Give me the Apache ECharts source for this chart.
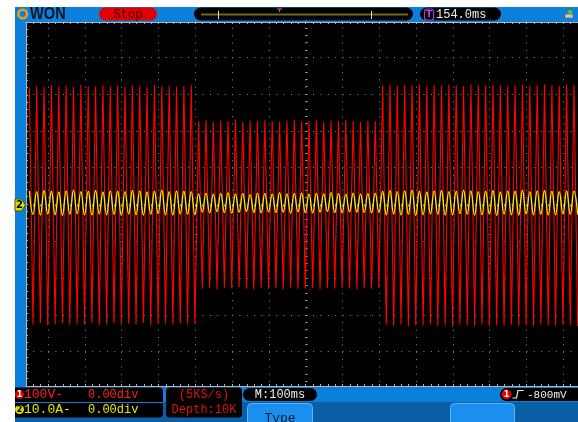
<!DOCTYPE html>
<html><head><meta charset="utf-8">
<script src="https://cdn.jsdelivr.net/npm/echarts@6.0.0/dist/echarts.min.js"></script>
<style>html,body{margin:0;padding:0;background:#fff;}#c{width:578px;height:422px;}</style>
</head><body><div id="c"></div>
<script>
// ---- data (50 Hz mains, 100 ms/div) ----
const HALF_PERIOD_MS = 10;
const FIRST_PEAK_MS = -751;
// CH1 voltage (V): positive peaks and negative peaks, one per cycle
const ch1TopsV = [
  318,322,320,324,321,323,319,325,322,320,324,321,323,320,325,322,319,324,321,323,320,322,324,
  226,229,225,228,227,230,224,228,226,229,227,225,228,230,226,227,229,225,228,226,229,227,224,228,226,
  323,326,322,325,324,327,321,325,323,326,324,322,326,325,323,327,324,322,325,326,323,325,327,324,322,326,324];
const ch1BottomsV = [
  -326,-323,-328,-325,-322,-327,-324,-326,-321,-328,-325,-323,-327,-324,-326,-322,-328,-325,-323,-327,-324,-326,-325,
  -229,-226,-230,-227,-228,-225,-229,-231,-226,-228,-227,-230,-225,-229,-228,-226,-230,-227,-229,-226,-228,-231,-227,-229,-226,
  -327,-330,-326,-331,-328,-329,-326,-330,-328,-332,-327,-329,-330,-326,-331,-328,-329,-327,-330,-328,-331,-326,-329,-330,-327,-328,-330];
// CH2 current (A)
const ch2TopsA = [
  3.7,3.5,3.8,3.6,3.4,3.7,3.9,3.5,3.6,3.8,3.4,3.7,3.6,3.5,3.8,3.7,3.4,3.6,3.9,3.5,3.7,3.6,3.5,
  2.9,3.1,2.8,3.0,3.2,2.9,3.0,2.7,3.1,3.0,2.8,3.2,2.9,3.0,3.1,2.8,3.0,2.9,3.2,3.0,2.8,3.1,2.9,3.0,3.1,
  3.6,3.8,3.5,3.7,3.9,3.6,3.4,3.7,3.8,3.5,3.6,3.9,3.7,3.5,3.6,3.8,3.4,3.7,3.6,3.9,3.5,3.7,3.8,3.6,3.5,3.7,3.6];
const ch2BottomsA = [
  -2.7,-2.9,-2.6,-2.8,-3.0,-2.7,-2.5,-2.8,-2.9,-2.6,-2.8,-2.7,-3.0,-2.6,-2.8,-2.9,-2.7,-2.5,-2.8,-2.9,-2.6,-2.7,-2.8,
  -2.1,-2.3,-2.0,-2.2,-2.4,-2.1,-1.9,-2.2,-2.3,-2.0,-2.2,-2.1,-2.4,-2.0,-2.2,-2.3,-2.1,-1.9,-2.2,-2.3,-2.0,-2.1,-2.2,-2.3,-2.1,
  -2.8,-2.6,-2.9,-2.7,-3.0,-2.8,-2.6,-2.7,-2.9,-2.8,-2.5,-2.7,-2.9,-2.8,-2.6,-3.0,-2.7,-2.8,-2.9,-2.6,-2.8,-2.7,-2.9,-2.8,-2.6,-2.7,-2.8];
// screen texts
const brandText = 'WON';
const runStateText = 'Stop';
const triggerTimeText = '154.0ms';
const ch1Labels = ['100V-', '0.00div'];
const ch2Labels = ['10.0A-', '0.00div'];
const sampleLabels = ['(5KS/s)', 'Depth:10K'];
const timebaseText = 'M:100ms';
const menuText = 'Type';
const trigLevelText = '-800mV';

function interleave(tops, bottoms) {
  const out = [];
  for (let i = 0; i < tops.length; i++) {
    const t = FIRST_PEAK_MS + 2 * i * HALF_PERIOD_MS;
    out.push([t, tops[i]]);
    out.push([t + HALF_PERIOD_MS, bottoms[i]]);
  }
  return out;
}
const ch1Data = interleave(ch1TopsV, ch1BottomsV);
const ch2Data = interleave(ch2TopsA, ch2BottomsA);

const BLUE = '#0b7fd9', DARKBLUE = '#0a5ea6', RULER = '#b4b4b4', GRIDC = '#8a8a8a', CENTER = '#9a9a9a';
const MONO = '"Liberation Mono", "DejaVu Sans Mono", monospace';
const hidden = {axisLine:{show:false,onZero:false},axisTick:{show:false},axisLabel:{show:false},splitLine:{show:false}};

function txt(text, x, y, fill, size, align, extra) {
  return Object.assign({type:'text', z:110, style:{text:text, x:x, y:y, fill:fill, font: size + 'px ' + MONO, align: align || 'left', verticalAlign:'middle'}}, extra || {});
}

const graphics = [
  {type:'rect', z:-10, shape:{x:15,y:7,width:563,height:415}, style:{fill:BLUE}},
  {type:'rect', z:-9, shape:{x:15,y:402,width:563,height:20}, style:{fill:DARKBLUE}},
  // logo
  {type:'circle', z:110, shape:{cx:22.7,cy:14,r:4.3}, style:{fill:null, stroke:'#e8a010', lineWidth:2.6}},
  {type:'text', z:110, x:30, y:14.5, scaleX:0.86, style:{text:brandText, x:0, y:0, fill:'#0c1626', font:'bold 17px "Liberation Sans", Arial', verticalAlign:'middle'}},
  // Stop pill
  {type:'rect', z:110, shape:{x:99,y:7.5,width:58,height:13,r:6.5}, style:{fill:'#e00000'}},
  txt(runStateText, 128, 14.5, '#3a0000', 12, 'center'),
  // timeline pill
  {type:'rect', z:110, shape:{x:194,y:7.5,width:219,height:13,r:6.5}, style:{fill:'#000'}},
  {type:'line', z:111, shape:{x1:201,y1:14.5,x2:408,y2:14.5}, style:{stroke:'#6e6a1e', lineWidth:2}},
  {type:'line', z:112, shape:{x1:218.5,y1:11,x2:218.5,y2:19}, style:{stroke:'#e0e0e0', lineWidth:1}},
  {type:'line', z:112, shape:{x1:371.5,y1:11,x2:371.5,y2:19}, style:{stroke:'#e0e0e0', lineWidth:1}},
  {type:'polyline', z:112, shape:{points:[[277,9],[282,9]]}, style:{stroke:'#d040c0', lineWidth:1.2}},
  {type:'line', z:112, shape:{x1:279.5,y1:9,x2:279.5,y2:12}, style:{stroke:'#d040c0', lineWidth:1.2}},
  // trigger time pill
  {type:'rect', z:110, shape:{x:420,y:7.5,width:81,height:13,r:6.5}, style:{fill:'#000'}},
  {type:'rect', z:111, shape:{x:424.5,y:9,width:9,height:11,r:2}, style:{fill:null, stroke:'#a040d0', lineWidth:1.2}},
  {type:'text', z:112, style:{text:'T', x:429, y:14.7, fill:'#b050e0', font:'bold 9px "DejaVu Sans"', align:'center', verticalAlign:'middle'}},
  txt(triggerTimeText, 436, 14.5, '#f0f0f0', 12, 'left'),
  // usb icon
  {type:'polygon', z:110, shape:{points:[[566,12],[570,9],[574,12],[570,15]]}, style:{fill:'#50c050', stroke:'#2a6a2a', lineWidth:0.6}},
  {type:'rect', z:110, shape:{x:565,y:14,width:8,height:4}, style:{fill:'#c8c8c8', stroke:'#606060', lineWidth:0.6}},
  // ch2 ground marker
  {type:'polygon', z:110, shape:{points:[[15,199],[21.5,199],[25.5,205],[21.5,211],[15,211]]}, style:{fill:'#dede00', stroke:'#505000', lineWidth:1}},
  {type:'text', z:111, style:{text:'2', x:19.5, y:205.5, fill:'#000', font:'bold 10px "DejaVu Sans"', align:'center', verticalAlign:'middle'}},
  // bottom-left channel panel
  {type:'rect', z:105, shape:{x:15,y:387.5,width:148,height:30,r:[0,4,4,0]}, style:{fill:'#000'}},
  {type:'line', z:106, shape:{x1:15,y1:402.5,x2:163,y2:402.5}, style:{stroke:BLUE, lineWidth:1.2}},
  {type:'circle', z:110, shape:{cx:19.5,cy:394.5,r:4.5}, style:{fill:'#e00000'}},
  {type:'text', z:111, style:{text:'1', x:19.5, y:395, fill:'#fff', font:'bold 8px "DejaVu Sans"', align:'center', verticalAlign:'middle'}},
  txt(ch1Labels[0], 24, 395, '#ff2020', 13, 'left'),
  txt(ch1Labels[1], 88, 395, '#ff2020', 12, 'left'),
  {type:'circle', z:110, shape:{cx:19.5,cy:409.5,r:4.5}, style:{fill:'#dede00'}},
  {type:'text', z:111, style:{text:'2', x:19.5, y:410, fill:'#000', font:'bold 8px "DejaVu Sans"', align:'center', verticalAlign:'middle'}},
  txt(ch2Labels[0], 24, 410, '#e8e800', 13, 'left'),
  txt(ch2Labels[1], 88, 410, '#e8e800', 12, 'left'),
  // sample panel
  {type:'rect', z:105, shape:{x:166,y:387.5,width:76,height:30,r:4}, style:{fill:'#000'}},
  txt(sampleLabels[0], 204, 395, '#e01010', 12, 'center'),
  txt(sampleLabels[1], 204, 410, '#e01010', 12, 'center'),
  // timebase pill
  {type:'rect', z:105, shape:{x:243,y:388,width:74,height:13,r:6.5}, style:{fill:'#000'}},
  txt(timebaseText, 280, 394.5, '#f0f0f0', 12, 'center'),
  // menu buttons
  {type:'rect', z:105, shape:{x:247.5,y:403.5,width:65,height:22,r:[4,4,0,0]}, style:{fill:'#1a8fee', stroke:'#5cb4ff', lineWidth:1}},
  txt(menuText, 280, 419, '#0a1a30', 13, 'center'),
  {type:'rect', z:105, shape:{x:450.5,y:403.5,width:64,height:22,r:[4,4,0,0]}, style:{fill:'#1a8fee', stroke:'#5cb4ff', lineWidth:1}},
  // trigger pill
  {type:'rect', z:105, shape:{x:500,y:388,width:80,height:13,r:[6.5,0,0,6.5]}, style:{fill:'#000'}},
  {type:'circle', z:110, shape:{cx:506.5,cy:394.5,r:5}, style:{fill:'#e00000'}},
  {type:'text', z:111, style:{text:'1', x:506.5, y:395, fill:'#fff', font:'bold 8px "DejaVu Sans"', align:'center', verticalAlign:'middle'}},
  {type:'polyline', z:110, shape:{points:[[512.5,398],[516.5,398],[518,390.5],[523.5,390.5]]}, style:{stroke:'#f0f0f0', lineWidth:1.2, fill:null}},
  txt(trigLevelText, 527, 395, '#f0f0f0', 11, 'left')
];

const rulerX = (pos) => ({gridIndex:0, type:'value', position:pos, min:-760, max:740, interval:20,
  axisLine:{show:true,onZero:false,lineStyle:{color:RULER,width:1}},
  axisTick:{show:true,inside:true,length:2,lineStyle:{color:RULER}},
  axisLabel:{show:false}, splitLine:{show:false}});

const option = {
  animation:false,
  backgroundColor:'transparent',
  grid:[
    {left:26, top:22, width:552, height:364, show:true, backgroundColor:'#000', borderWidth:0, outerBoundsMode:'none'},
    {left:26, top:20.5, width:552, height:368, show:false, outerBoundsMode:'none'},
    {left:11.3, top:20.5, width:588.8, height:368, show:false, outerBoundsMode:'none'}
  ],
  xAxis:[
    rulerX('top'),
    rulerX('bottom'),
    {gridIndex:1, type:'value', min:-760, max:740, interval:20,
      axisLine:{show:true,onZero:true,onZeroAxisIndex:1,lineStyle:{opacity:0}},
      axisTick:{show:true,inside:false,length:2,lineStyle:{color:CENTER}},
      axisLabel:{show:false}, splitLine:{show:false}},
    {gridIndex:2, type:'value', min:-800, max:800, interval:100,
      axisLine:{show:false,onZero:false}, axisTick:{show:false}, axisLabel:{show:false},
      splitLine:{show:true, showMinLine:false, showMaxLine:false, lineStyle:{color:GRIDC, width:1, type:[1,6.36]}}}
  ],
  yAxis:[
    {gridIndex:0, type:'value', position:'left', min:-500, max:500, interval:20,
      axisLine:{show:true,onZero:false,lineStyle:{color:RULER,width:1}},
      axisTick:{show:true,inside:true,length:2,lineStyle:{color:RULER}},
      axisLabel:{show:false}, splitLine:{show:false}},
    {gridIndex:1, type:'value', min:-500, max:500, interval:100,
      axisLine:{show:false,onZero:false}, axisTick:{show:false}, axisLabel:{show:false},
      splitLine:{show:true, showMinLine:false, showMaxLine:false, lineStyle:{color:GRIDC, width:1, type:[1,6.36]}}},
    {gridIndex:1, type:'value', min:-500, max:500, interval:20,
      axisLine:{show:true,onZero:true,onZeroAxisIndex:2,lineStyle:{opacity:0}},
      axisTick:{show:true,inside:false,length:2,lineStyle:{color:CENTER}},
      axisLabel:{show:false}, splitLine:{show:false}},
    Object.assign({gridIndex:2, type:'value', min:-500, max:500}, hidden),
    Object.assign({gridIndex:2, type:'value', min:-50, max:50}, hidden)
  ],
  series:[
    {type:'line', name:'CH1', xAxisIndex:3, yAxisIndex:3, data:ch1Data, symbol:'none', silent:true, z:2,
      lineStyle:{color:'#ff0000', width:1.1}},
    {type:'line', name:'CH2', xAxisIndex:3, yAxisIndex:4, data:ch2Data, symbol:'none', smooth:0.45, silent:true, z:3,
      lineStyle:{color:'#f2f200', width:1.3}}
  ],
  graphic:{elements:graphics}
};
const chart = echarts.init(document.getElementById('c'), null, {renderer:'canvas'});
chart.setOption(option);
</script></body></html>
